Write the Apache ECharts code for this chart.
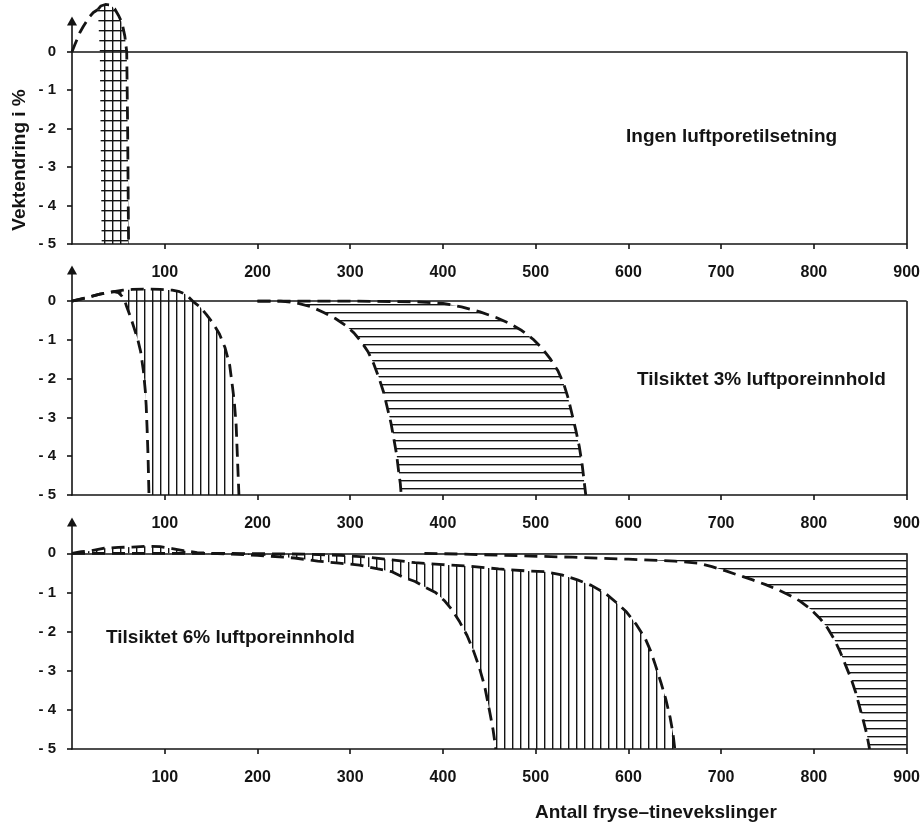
<!DOCTYPE html>
<html><head><meta charset="utf-8">
<script src="https://cdn.jsdelivr.net/npm/echarts@6/dist/echarts.min.js"></script>
<style>html,body{margin:0;padding:0;background:#fff}#c{width:923px;height:828px}</style>
</head><body><div id="c"></div>
<script>
// ---------- data (x = antall fryse-tinevekslinger, y = vektendring i %) ----------
const xTicks = [100, 200, 300, 400, 500, 600, 700, 800, 900];
const yTicks = [-5, -4, -3, -2, -1, 0];

// Panel 1: Ingen luftporetilsetning
const p1Rise  = [[0,0],[3,0.18],[8.5,0.5],[12,0.65],[18.5,0.9],[23,1.02],[28,1.1]];
const p1Right = [[28,1.1],[31,1.19],[36,1.23],[41,1.22],[46,1.12],[50,0.95],[54,0.75],[57,0.4],[59,0],[60,-2],[61,-5]];
const p1Left  = [[28,1.1],[29,0.5],[30,0],[31,-2.5],[32,-5]];

// Panel 2: Tilsiktet 3% luftporeinnhold
const p2EarlyA = [[0,0],[15,0.08],[30,0.18],[45,0.24],[50,0.22],[54,0.12],[57,0],[59,-0.15],[63,-0.4],[67,-0.7],[71,-1.0],[74,-1.3],[77,-1.8],[79,-2.3],[80,-2.7],[81,-3.3],[82,-4.0],[83,-5]];
const p2LateA  = [[0,0],[15,0.08],[30,0.18],[45,0.24],[55,0.28],[65,0.3],[80,0.31],[95,0.3],[108,0.28],[116,0.24],[123,0.17],[130,0],[138,-0.15],[145,-0.35],[152,-0.57],[159,-0.85],[165,-1.2],[170,-1.65],[173,-2.2],[175,-2.6],[177,-3.2],[178,-3.8],[179,-4.4],[180,-5]];
const p2EarlyB = [[200,0],[225,0],[242,-0.05],[258,-0.15],[272,-0.3],[284,-0.45],[295,-0.63],[304,-0.82],[312,-1.05],[319,-1.3],[325,-1.6],[331,-1.98],[336,-2.35],[340,-2.75],[344,-3.15],[347,-3.55],[350,-3.95],[352,-4.35],[354,-4.7],[355,-5]];
const p2LateB  = [[200,0],[300,0],[370,-0.02],[400,-0.06],[420,-0.15],[440,-0.28],[458,-0.43],[472,-0.58],[485,-0.76],[497,-0.98],[507,-1.22],[516,-1.5],[524,-1.8],[530,-2.12],[535,-2.5],[539,-2.9],[543,-3.3],[547,-3.75],[550,-4.2],[552,-4.6],[554,-5]];

// Panel 3: Tilsiktet 6% luftporeinnhold
const p3EarlyA = [[0,0],[10,0.04],[20,0.06],[35,0.13],[50,0.15],[65,0.16],[80,0.18],[95,0.17],[108,0.12],[120,0.07],[135,0.02],[150,0],[200,-0.05],[240,-0.12],[265,-0.2],[288,-0.25],[310,-0.3],[330,-0.4],[345,-0.47],[356,-0.6],[370,-0.72],[381,-0.87],[392,-1.0],[402,-1.22],[410,-1.45],[418,-1.75],[426,-2.1],[433,-2.5],[439,-2.9],[445,-3.4],[450,-4.0],[454,-4.5],[457,-5]];
const p3LateA  = [[0,0],[150,0],[200,-0.01],[250,-0.02],[290,-0.05],[320,-0.1],[345,-0.17],[370,-0.24],[400,-0.29],[430,-0.33],[460,-0.4],[490,-0.45],[510,-0.47],[528,-0.55],[545,-0.68],[560,-0.82],[575,-1.02],[588,-1.28],[598,-1.5],[608,-1.8],[618,-2.17],[624,-2.5],[629,-2.85],[635,-3.3],[640,-3.7],[645,-4.2],[648,-4.6],[650,-5]];
const p3EarlyB = [[380,0],[420,-0.02],[480,-0.06],[540,-0.1],[600,-0.15],[650,-0.2],[675,-0.25],[690,-0.34],[705,-0.45],[720,-0.57],[734,-0.68],[748,-0.8],[760,-0.92],[772,-1.05],[785,-1.22],[796,-1.42],[806,-1.65],[815,-1.92],[822,-2.2],[828,-2.5],[834,-2.85],[840,-3.2],[845,-3.55],[849,-3.9],[853,-4.25],[857,-4.62],[860,-5]];
const p3EdgeB  = [[900,-5],[900,0]];

// ---------- styling helpers ----------
const FONT = "'Liberation Sans', sans-serif";
const INK = '#141414';

function makePattern(w, h, vertical, horizontal) {
  const c = document.createElement('canvas');
  c.width = w; c.height = h;
  const ctx = c.getContext('2d');
  ctx.fillStyle = INK;
  if (vertical) ctx.fillRect(0, 0, 1.4, h);
  if (horizontal) ctx.fillRect(0, 0, w, 1.4);
  return { image: c, repeat: 'repeat' };
}
const patVert  = makePattern(8, 8, true, false);
const patHorz  = makePattern(8, 8, false, true);
const patCross = makePattern(8, 10, true, true);

const rev = a => a.slice().reverse();
const regions = [
  { grid: 0, poly: p1Right.concat(rev(p1Left)), fill: patCross },
  { grid: 1, poly: p2EarlyA.concat(rev(p2LateA)), fill: patVert },
  { grid: 1, poly: p2EarlyB.concat(rev(p2LateB)), fill: patHorz },
  { grid: 2, poly: p3EarlyA.concat(rev(p3LateA)), fill: patVert },
  { grid: 2, poly: p3EarlyB.concat(p3EdgeB), fill: patHorz }
];

const grids = [
  { left: 72, right: 16, top: 21, bottom: 584 },
  { left: 72, right: 16, top: 270, bottom: 333 },
  { left: 72, right: 16, top: 522, bottom: 79 }
];

const axisLineStyle = { color: INK, width: 1.6 };
const xAxes = grids.map((g, i) => ({
  gridIndex: i, type: 'value', min: 0, max: 900, interval: 100,
  axisLine: { show: true, onZero: false, lineStyle: axisLineStyle },
  axisTick: { show: true, customValues: xTicks, length: 5, lineStyle: axisLineStyle },
  axisLabel: { customValues: xTicks, margin: 21, fontSize: 16, fontWeight: 'bold', color: INK, fontFamily: FONT },
  splitLine: { show: false }
}));
const yAxes = grids.map((g, i) => ({
  gridIndex: i, type: 'value', min: -5, max: 0.8, interval: 1,
  axisLine: { show: true, onZero: false, symbol: ['none', 'triangle'], symbolSize: [10, 9], lineStyle: axisLineStyle },
  axisTick: { show: true, customValues: yTicks, length: 5, lineStyle: axisLineStyle },
  axisLabel: { customValues: yTicks, margin: 16, fontSize: 15, fontWeight: 'bold', color: INK, fontFamily: FONT,
    formatter: v => v < 0 ? '- ' + (-v) : String(v) },
  splitLine: { show: false }
}));

function dashed(grid, data, withFrame) {
  const s = {
    type: 'line', xAxisIndex: grid, yAxisIndex: grid, data: data, symbol: 'none',
    clip: false, silent: true, animation: false, z: 5,
    lineStyle: { color: INK, width: 2.8, type: [13, 7], cap: 'butt' }
  };
  if (withFrame) {
    s.markLine = {
      silent: true, symbol: ['none', 'none'], animation: false,
      label: { show: false },
      lineStyle: { color: INK, width: 1.6, type: 'solid' },
      data: [ { yAxis: 0 }, [ { coord: [900, 0] }, { coord: [900, -5] } ] ]
    };
  }
  return s;
}

const hatchSeries = regions.map(r => ({
  type: 'custom', xAxisIndex: r.grid, yAxisIndex: r.grid, silent: true, animation: false, clip: false,
  data: [[0, 0]], z: 3,
  renderItem: (params, api) => ({
    type: 'polygon',
    shape: { points: r.poly.map(p => api.coord(p)) },
    style: { fill: r.fill, stroke: null }
  })
}));

const TXT = 'bold 19px ' + FONT;
const option = {
  backgroundColor: '#fff',
  animation: false,
  grid: grids,
  xAxis: xAxes,
  yAxis: yAxes,
  series: [
    dashed(0, p1Rise, true), dashed(0, p1Right, false),
    dashed(1, p2EarlyA, true), dashed(1, p2LateA, false), dashed(1, p2EarlyB, false), dashed(1, p2LateB, false),
    dashed(2, p3EarlyA, true), dashed(2, p3LateA, false), dashed(2, p3EarlyB, false)
  ].concat(hatchSeries),
  graphic: [
    { type: 'text', x: 626, y: 137, style: { text: 'Ingen luftporetilsetning', font: TXT, fill: INK, verticalAlign: 'middle' } },
    { type: 'text', x: 637, y: 380, style: { text: 'Tilsiktet 3% luftporeinnhold', font: TXT, fill: INK, verticalAlign: 'middle' } },
    { type: 'text', x: 106, y: 638, style: { text: 'Tilsiktet 6% luftporeinnhold', font: TXT, fill: INK, verticalAlign: 'middle' } },
    { type: 'text', x: 535, y: 813, style: { text: 'Antall fryse–tinevekslinger', font: TXT, fill: INK, verticalAlign: 'middle' } },
    { type: 'text', x: 20, y: 160, rotation: Math.PI / 2,
      style: { text: 'Vektendring i %', font: 'bold 19px ' + FONT, fill: INK, align: 'center', verticalAlign: 'middle' } }
  ]
};

const chart = echarts.init(document.getElementById('c'), null, { renderer: 'canvas' });
chart.setOption(option);
</script>
</body></html>
